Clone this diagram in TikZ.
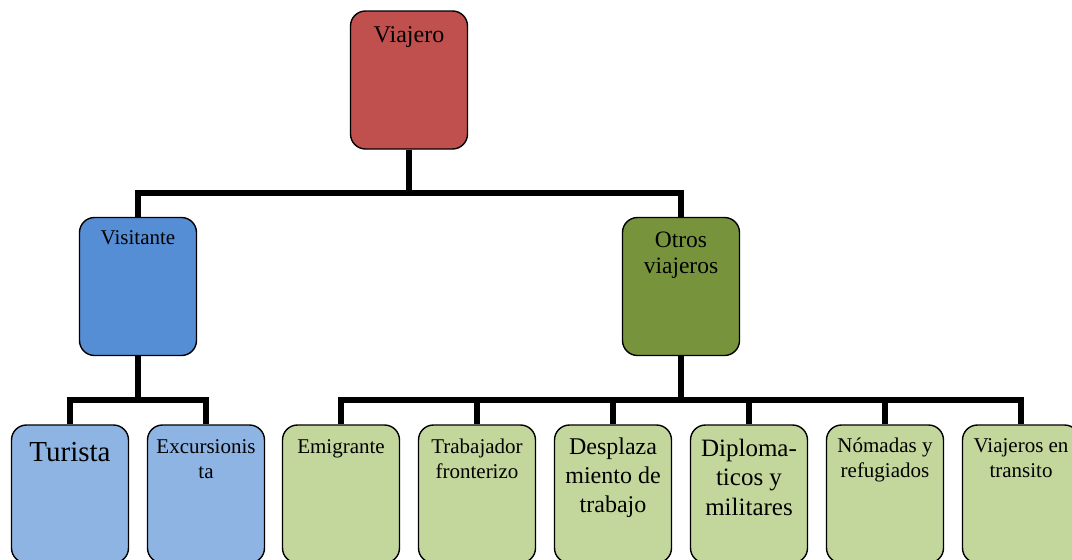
\documentclass[tikz,border=0pt]{standalone}
\usepackage{fontspec}
\setmainfont{Liberation Serif}
\usetikzlibrary{backgrounds}
\definecolor{cRed}{HTML}{C0504D}
\definecolor{cBlue}{HTML}{558ED5}
\definecolor{cOlive}{HTML}{77933C}
\definecolor{cLightBlue}{HTML}{8EB4E3}
\definecolor{cLightGreen}{HTML}{C3D69B}
\newcommand{\mlines}[1]{\begin{tabular}[t]{@{}c@{}}#1\end{tabular}}
\begin{document}
\begin{tikzpicture}[x=1pt,y=-1pt,
  box/.style={draw=black, line width=1.4pt, rounded corners=15pt, minimum width=117pt, minimum height=138pt, inner sep=0pt},
  lbl/.style={anchor=base, inner sep=0pt, align=center, text=black},
  conn/.style={line width=5.5pt, draw=black}]
\useasboundingbox (0,0) rectangle (1072,560);
\clip (0,0) rectangle (1072,560);

% boxes
\node[box, fill=cRed] (viajero) at (409,80) {};
\node[box, fill=cBlue] (visitante) at (138,286.5) {};
\node[box, fill=cOlive] (otros) at (681,286.5) {};
\node[box, fill=cLightBlue] (turista) at (70,494) {};
\node[box, fill=cLightBlue] (excursionista) at (206,494) {};
\node[box, fill=cLightGreen] (emigrante) at (341,494) {};
\node[box, fill=cLightGreen] (trabajador) at (477,494) {};
\node[box, fill=cLightGreen] (desplaza) at (613,494) {};
\node[box, fill=cLightGreen] (diploma) at (749,494) {};
\node[box, fill=cLightGreen] (nomadas) at (885,494) {};
\node[box, fill=cLightGreen] (transito) at (1021,494) {};

% labels
\node[lbl, font=\fontsize{24}{28}\selectfont] (tViajero) at (409,42) {Viajero};
\node[lbl, font=\fontsize{21}{25}\selectfont] (tVisitante) at (138,244) {Visitante};
\node[lbl, font=\fontsize{23.5}{26}\selectfont] (tOtros) at (681,247) {\mlines{Otros\\viajeros}};
\node[lbl, font=\fontsize{29}{33}\selectfont] (tTurista) at (70,461) {Turista};
\node[lbl, font=\fontsize{21}{25}\selectfont] (tExc) at (206,453) {\mlines{Excursionis\\ta}};
\node[lbl, font=\fontsize{21}{25}\selectfont] (tEmig) at (341,453) {Emigrante};
\node[lbl, font=\fontsize{21}{25}\selectfont] (tTrab) at (477,453) {\mlines{Trabajador\\fronterizo}};
\node[lbl, font=\fontsize{24}{29}\selectfont] (tDesp) at (613,454) {\mlines{Desplaza\\miento de\\trabajo}};
\node[lbl, font=\fontsize{25}{29.5}\selectfont] (tDipl) at (749,456) {\mlines{Diploma-\\ticos y\\militares}};
\node[lbl, font=\fontsize{21}{25}\selectfont] (tNom) at (885,452) {\mlines{Nómadas y\\refugiados}};
\node[lbl, font=\fontsize{21}{25}\selectfont] (tTrans) at (1021,452) {\mlines{Viajeros en\\transito}};

% connectors
\coordinate (bar1) at (409,193);
\coordinate (bar2) at (138,400);
\coordinate (bar3) at (681,400);
\begin{scope}[on background layer]
\draw[conn] (viajero.south) -- (bar1) -| (visitante.north);
\draw[conn] (bar1) -| (otros.north);
\draw[conn] (visitante.south) -- (bar2) -| (turista.north);
\draw[conn] (bar2) -| (excursionista.north);
\draw[conn] (otros.south) -- (bar3) -| (emigrante.north);
\draw[conn] (bar3) -| (trabajador.north);
\draw[conn] (bar3) -| (desplaza.north);
\draw[conn] (bar3) -| (diploma.north);
\draw[conn] (bar3) -| (nomadas.north);
\draw[conn] (bar3) -| (transito.north);
\end{scope}
\end{tikzpicture}
\end{document}
